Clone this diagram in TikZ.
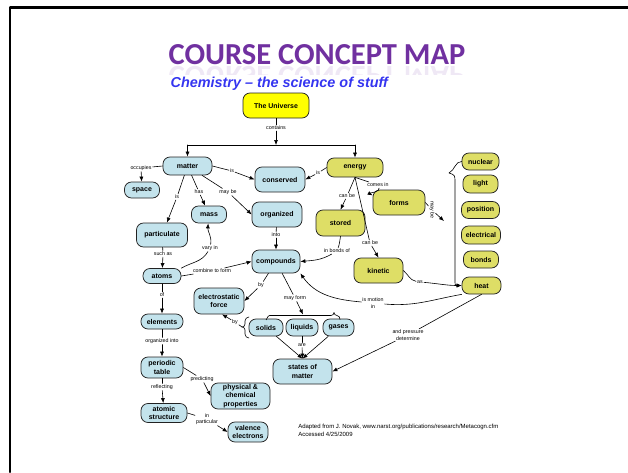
\documentclass[tikz,border=0pt]{standalone}
\usepackage{fontspec}
\setmainfont{Liberation Sans}
\newfontfamily\titlefont{Carlito}
\usepackage{xcolor}
\usetikzlibrary{arrows.meta,positioning,calc}
\definecolor{CMPurple}{HTML}{7030A0}
\definecolor{CMSub}{HTML}{3535F0}
\definecolor{CMBlue}{HTML}{C3E3EC}
\definecolor{CMOlive}{HTML}{DEDE66}
\definecolor{CMSun}{HTML}{FFFF00}
\definecolor{CMInk}{HTML}{222222}

\tikzset{
  concept/.style={draw=CMInk,line width=0.75pt,rounded corners=7pt,fill=CMBlue,
    font=\fontsize{7}{8.2}\selectfont\bfseries,align=center,inner sep=1pt,
    minimum height=17pt},
  warm/.style={concept,fill=CMOlive},
  link/.style={font=\fontsize{5.3}{6.2}\selectfont,inner sep=0.8pt,align=center},
  arr/.style={-{Latex[length=5pt,width=4pt]}},
}

\begin{document}
\begin{tikzpicture}[x=1pt,y=-1pt,line cap=round,line join=round,line width=0.6pt]
  \path[use as bounding box] (0,0) rectangle (628,472);

  % slide frame
  \draw[line width=2.6pt] (10,472) -- (10,7.5) -- (628,7.5);

  % heading
  \node[anchor=base,font=\titlefont\fontsize{30.5}{32}\selectfont\bfseries,text=CMPurple]
    (title) at (317,64) {COURSE CONCEPT MAP};
  \begin{scope}
    \clip (150,65) rectangle (480,74);
    \begin{scope}[shift={(317,66)},yscale=-1,transform shape]
      \node[anchor=base,font=\titlefont\fontsize{30.5}{32}\selectfont\bfseries,
        text=CMPurple!11] (mirror) at (0,0) {COURSE CONCEPT MAP};
    \end{scope}
  \end{scope}
  \node[anchor=west,font=\fontsize{14.4}{16}\selectfont\bfseries\itshape,text=CMSub]
    (subtitle) at (167,84) {Chemistry -- the science of stuff};

  % concepts
  \node[concept,fill=CMSun,minimum width=66pt,minimum height=25pt]
    (universe) at (276,105.5) {The Universe};

  \node[concept,minimum width=49pt,minimum height=18pt] (matter) at (187.5,166) {matter};
  \node[concept,minimum width=35pt,minimum height=16pt] (space) at (142,190) {space};
  \node[concept,minimum width=50pt,minimum height=25pt] (conserved) at (280,179.5) {conserved};
  \node[concept,minimum width=35pt] (mass) at (209,214.5) {mass};
  \node[concept,minimum width=50pt,minimum height=25pt] (organized) at (277,214.5) {organized};
  \node[concept,minimum width=51pt,minimum height=24pt] (particulate) at (162,235) {particulate};
  \node[concept,minimum width=38pt,minimum height=15pt] (atoms) at (162,276) {atoms};
  \node[concept,minimum width=42pt,minimum height=15pt] (elements) at (162,321.5) {elements};
  \node[concept,minimum width=42pt,minimum height=21pt] (ptable) at (162,367.5) {periodic\\table};
  \node[concept,minimum width=46pt,minimum height=19pt] (atomic) at (164,413) {atomic\\structure};
  \node[concept,minimum width=59pt,minimum height=26pt] (physical) at (240.5,396) {physical \&\\chemical\\properties};
  \node[concept,minimum width=40pt,minimum height=20pt] (valence) at (248,432) {valence\\electrons};
  \node[concept,minimum width=48pt,minimum height=23pt] (compounds) at (276,261.5) {compounds};
  \node[concept,minimum width=50pt,minimum height=26pt] (eforce) at (219,301) {electrostatic\\force};
  \node[concept,minimum width=34pt] (solids) at (266,327.5) {solids};
  \node[concept,minimum width=32pt] (liquids) at (302,327.5) {liquids};
  \node[concept,minimum width=31pt] (gases) at (338.5,327.5) {gases};
  \node[concept,minimum width=59pt,minimum height=25pt] (states) at (302.5,371.5) {states of\\matter};

  \node[warm,minimum width=56pt,minimum height=19pt] (energy) at (355,167.5) {energy};
  \node[warm,minimum width=52pt,minimum height=25pt] (forms) at (399,202.5) {forms};
  \node[warm,minimum width=49pt,minimum height=26pt] (stored) at (340.5,223) {stored};
  \node[warm,minimum width=49pt,minimum height=25pt] (kinetic) at (378.5,270.5) {kinetic};
  \node[warm,minimum width=37pt] (nuclear) at (480.5,161.5) {nuclear};
  \node[warm,minimum width=35pt,minimum height=18pt] (light) at (480.5,184) {light};
  \node[warm,minimum width=38pt] (position) at (480.5,210) {position};
  \node[warm,minimum width=39pt,minimum height=18pt] (electrical) at (481,235) {electrical};
  \node[warm,minimum width=35pt] (bonds) at (481,259.5) {bonds};
  \node[warm,minimum width=39pt] (heat) at (481.5,285.5) {heat};

  % linking phrases
  \node[link] (contains) at (276,128) {contains};
  \node[link] (occupies) at (141,168) {occupies};
  \node[link] (isA) at (232,171) {is};
  \node[link] (isB) at (318,173) {is};
  \node[link] (isC) at (177,197) {is};
  \node[link] (has) at (199,192) {has};
  \node[link] (maybeA) at (228,192) {may be};
  \node[link] (into) at (276,235) {into};
  \node[link] (suchas) at (163,254) {such as};
  \node[link] (varyin) at (210,248) {vary in};
  \node[link] (combine) at (212,271) {combine to form};
  \node[link] (of) at (162,295) {of};
  \node[link] (orginto) at (162,341) {organized into};
  \node[link] (reflecting) at (162,387) {reflecting};
  \node[link] (predicting) at (202,379) {predicting};
  \node[link] (inpart) at (207,419) {in\\particular};
  \node[link] (byA) at (261,285) {by};
  \node[link] (mayform) at (295,298) {may form};
  \node[link] (byB) at (235,322) {by};
  \node[link] (are) at (302,345) {are};
  \node[link] (comesin) at (378,185) {comes in};
  \node[link] (canbeA) at (347,196) {can be};
  \node[link] (canbeB) at (370,243) {can be};
  \node[link] (inbonds) at (337,251) {in bonds of};
  \node[link] (as) at (420,282) {as};
  \node[link] (ismotion) at (373,303) {is motion\\in};
  \node[link] (pressure) at (408,335) {and pressure\\determine};
  \node[link,rotate=-90] (maybeB) at (432,210) {may be};

  % free ends and braces
  \coordinate (jn) at (276,145);
  \coordinate (btip) at (449,173);
  \coordinate (grp) at (444,221);
  \coordinate (topbr) at (303,314.5);
  \coordinate (ltip) at (242,327);

  % connectors
  \draw (universe) -- (contains);
  \draw[arr] (contains) -- (jn);
  \draw (matter.north |- jn) -- (energy.north |- jn);
  \draw[arr] (matter.north |- jn) -- (matter.north);
  \draw[arr] (energy.north |- jn) -- (energy.north);

  \draw (matter.west) -- (occupies);
  \draw[arr] (occupies) -- (space);
  \draw (matter.east) -- (isA);
  \draw[arr] (isA) -- (conserved.west);
  \draw (energy.west) -- (isB);
  \draw[arr] (isB) -- (conserved.east);
  \draw (matter) -- (isC);
  \draw[arr] (isC) -- (particulate);
  \draw (matter) -- (has);
  \draw[arr] (has) -- (mass);
  \draw (matter) -- (maybeA);
  \draw[arr] (maybeA) -- (organized.west);
  \draw (organized) -- (into);
  \draw[arr] (into) -- (compounds);
  \draw (particulate) -- (suchas);
  \draw[arr] (suchas) -- (atoms);
  \draw (atoms.north east) to[out=30,in=-120] (varyin);
  \draw[arr] (varyin) to[out=80,in=-95] (mass);
  \draw (atoms.east) -- (combine);
  \draw[arr] (combine) -- (compounds.west);
  \draw (atoms) -- (of);
  \draw[arr] (of) -- (elements);
  \draw (elements) -- (orginto);
  \draw[arr] (orginto) -- (ptable);
  \draw (ptable) -- (reflecting);
  \draw[arr] (reflecting) -- (atomic);
  \draw (ptable.east) -- (predicting);
  \draw[arr] (predicting) -- (physical.west);
  \draw (atomic.east) -- (inpart);
  \draw[arr] (inpart) -- (valence.west);

  \draw (compounds) -- (byA);
  \draw[arr] (byA) -- (eforce.east);
  \draw (compounds) -- (mayform);
  \draw[arr] (mayform) -- (topbr);
  \draw (266,319.5) to[out=-90,in=180] (269.5,315.5) -- (331,315.5)
    to[out=0,in=-90] (334,312.5) to[out=-90,in=180] (337,315.5)
    to[out=0,in=90] (340,319.5);
  \draw (249,317) to[out=180,in=90] (245,321) -- (245,324)
    to[out=-90,in=0] (ltip) to[out=0,in=90] (245,330) -- (245,334)
    to[out=-90,in=180] (249,338);
  \draw (ltip) -- (byB);
  \draw[arr] (byB) -- ([xshift=3pt]eforce.south);
  \draw[arr] (solids) -- (states.north);
  \draw (liquids) -- (are);
  \draw[arr] (are) -- (states.north);
  \draw[arr] (gases) -- (states.north);

  \draw (energy.south) -- (comesin);
  \draw[arr] (comesin) to[out=-70,in=150] (forms.165);
  \draw (energy.south) -- (canbeA);
  \draw[arr] (canbeA) -- (stored.north);
  \draw (energy.south) -- (canbeB);
  \draw[arr] (canbeB) -- (kinetic.north);
  \draw (stored.south) to[out=-100,in=70] (inbonds);
  \draw[arr] (inbonds) to[out=-150,in=5] (compounds.east);
  \draw (forms.east) -- (maybeB);
  \draw[arr] (maybeB) -- (grp);
  \draw (nuclear.west) .. controls (455,161.5) and (455,170) .. (btip);
  \draw[arr] (btip) .. controls (455,175) .. (455,183) -- (455,279)
    .. controls (455,285.5) .. (heat.west);
  \draw (kinetic.east) to[out=-40,in=170] (as);
  \draw[arr] (as) to[out=-5,in=180] (heat.west);
  \draw (heat.south west) to[out=190,in=-5] (ismotion);
  \draw[arr] (ismotion) to[out=175,in=-55] (compounds.south east);
  \draw (heat.south) -- (pressure);
  \draw[arr] (pressure) -- (states.east);

  % source note
  \node[anchor=north west,align=left,inner sep=0pt,font=\fontsize{6}{7.8}\selectfont]
    (source) at (298,424)
    {Adapted from J. Novak, www.narst.org/publications/research/Metacogn.cfm\\
     Accessed 4/25/2009};
\end{tikzpicture}
\end{document}
